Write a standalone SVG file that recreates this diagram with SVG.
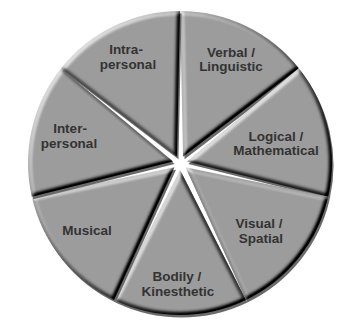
<svg xmlns="http://www.w3.org/2000/svg" xmlns:xlink="http://www.w3.org/1999/xlink" width="348" height="330" viewBox="0 0 348 330">
  <style>
    .side { fill: #6a6a6a; }
    .face { fill: #000; }
    .lbl { font-family: "Liberation Sans", Arial, Helvetica, sans-serif; font-weight: bold; font-size: 13.5px; fill: #333; text-anchor: middle; }
  </style>
  <defs>
    <path id="slice" d="M7,0 L136.95,-65.95 A152,152 0 0 1 136.95,65.95 Z"/>
    <filter id="bevel" x="-10%" y="-10%" width="120%" height="120%" color-interpolation-filters="sRGB">
      <feGaussianBlur in="SourceAlpha" stdDeviation="2.2" result="b"/>
      <feDiffuseLighting in="b" surfaceScale="4" diffuseConstant="1" lighting-color="#dcdcdc" result="l">
        <feDistantLight azimuth="225" elevation="45"/>
      </feDiffuseLighting>
      <feComposite in="l" in2="SourceAlpha" operator="in"/>
    </filter>
  </defs>
  <rect width="348" height="330" fill="#fff"/>

  <g id="verbal">
    <use xlink:href="#slice" class="side" transform="translate(181.5 165.5) rotate(-64.29)"/>
    <g filter="url(#bevel)"><use xlink:href="#slice" class="face" transform="translate(180 163) rotate(-64.29)"/></g>
    <text class="lbl" x="231" y="57">Verbal /</text>
    <text class="lbl" x="231" y="71">Linguistic</text>
  </g>
  <g id="logical">
    <use xlink:href="#slice" class="side" transform="translate(181.5 165.5) rotate(-12.86)"/>
    <g filter="url(#bevel)"><use xlink:href="#slice" class="face" transform="translate(180 163) rotate(-12.86)"/></g>
    <text class="lbl" x="276" y="141">Logical /</text>
    <text class="lbl" x="276" y="155">Mathematical</text>
  </g>
  <g id="visual">
    <use xlink:href="#slice" class="side" transform="translate(181.5 165.5) rotate(38.57)"/>
    <g filter="url(#bevel)"><use xlink:href="#slice" class="face" transform="translate(180 163) rotate(38.57)"/></g>
    <text class="lbl" x="259" y="228">Visual /</text>
    <text class="lbl" x="261" y="243">Spatial</text>
  </g>
  <g id="bodily">
    <use xlink:href="#slice" class="side" transform="translate(181.5 165.5) rotate(90)"/>
    <g filter="url(#bevel)"><use xlink:href="#slice" class="face" transform="translate(180 163) rotate(90)"/></g>
    <text class="lbl" x="177" y="281">Bodily /</text>
    <text class="lbl" x="178" y="296">Kinesthetic</text>
  </g>
  <g id="musical">
    <use xlink:href="#slice" class="side" transform="translate(181.5 165.5) rotate(141.43)"/>
    <g filter="url(#bevel)"><use xlink:href="#slice" class="face" transform="translate(180 163) rotate(141.43)"/></g>
    <text class="lbl" x="87" y="235">Musical</text>
  </g>
  <g id="inter">
    <use xlink:href="#slice" class="side" transform="translate(181.5 165.5) rotate(192.86)"/>
    <g filter="url(#bevel)"><use xlink:href="#slice" class="face" transform="translate(180 163) rotate(192.86)"/></g>
    <text class="lbl" x="70" y="133">Inter-</text>
    <text class="lbl" x="69" y="148">personal</text>
  </g>
  <g id="intra">
    <use xlink:href="#slice" class="side" transform="translate(181.5 165.5) rotate(244.29)"/>
    <g filter="url(#bevel)"><use xlink:href="#slice" class="face" transform="translate(180 163) rotate(244.29)"/></g>
    <text class="lbl" x="126" y="54">Intra-</text>
    <text class="lbl" x="128" y="69">personal</text>
  </g>
</svg>
